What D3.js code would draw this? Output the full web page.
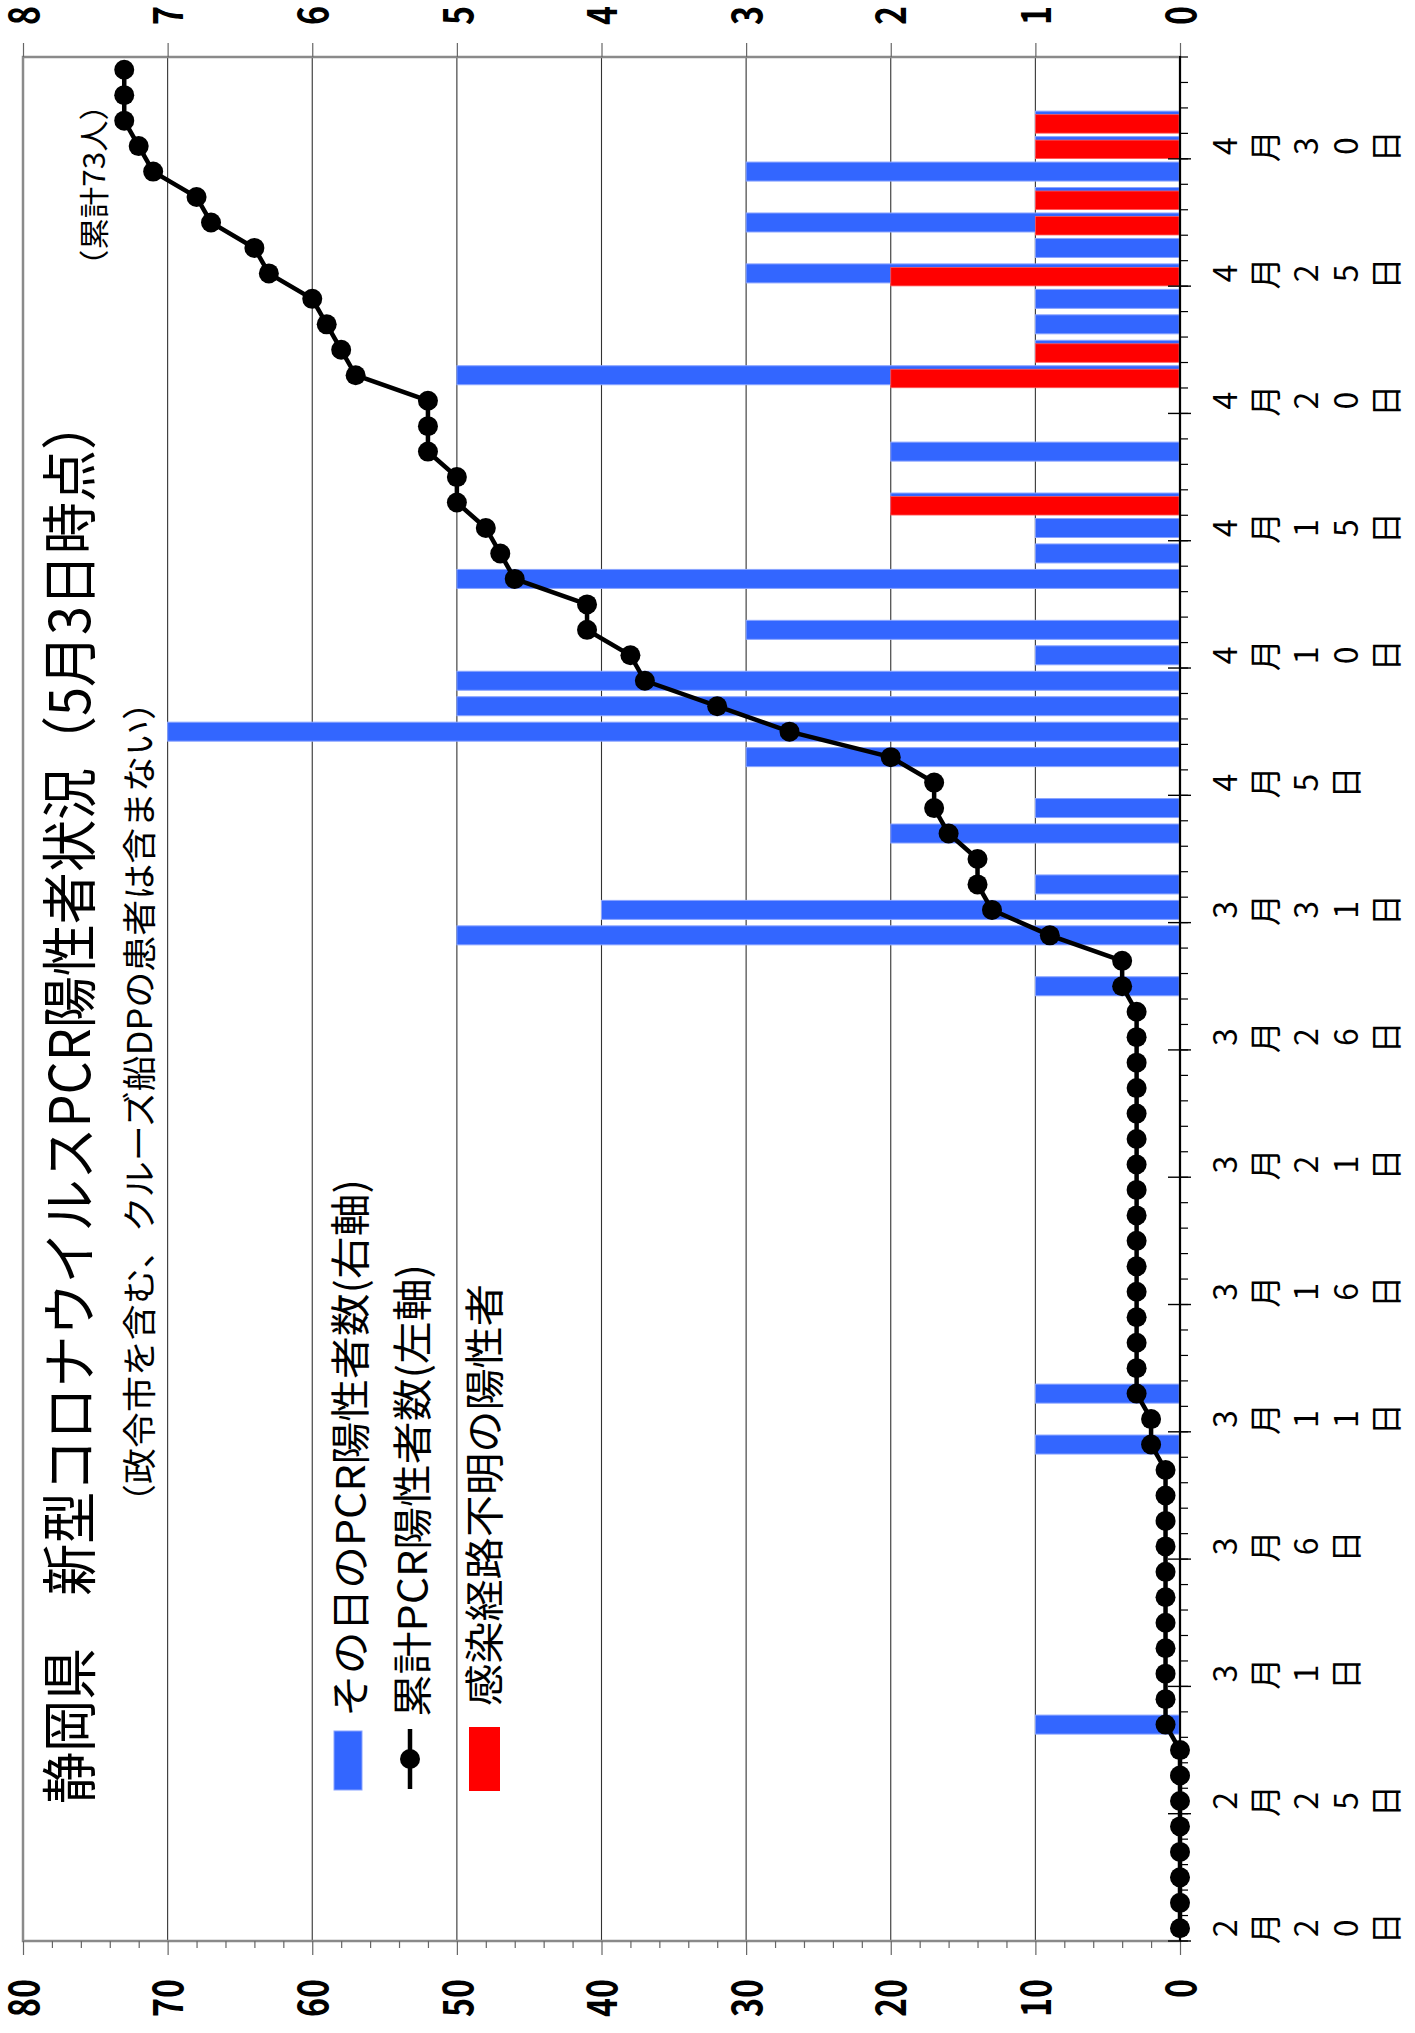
<!DOCTYPE html>
<html><head><meta charset="utf-8">
<script src="https://cdn.jsdelivr.net/npm/d3@7/dist/d3.min.js"></script>
<style>
html,body{margin:0;padding:0;background:#fff;}
svg{display:block;}
text{font-family:"Noto Sans CJK JP","Noto Sans",sans-serif;fill:#000;}
</style></head>
<body>
<svg id="chart" width="1415" height="2033"></svg>
<script>
// ---- data ----
const dates = ["2/20","2/21","2/22","2/23","2/24","2/25","2/26","2/27","2/28","2/29",
"3/1","3/2","3/3","3/4","3/5","3/6","3/7","3/8","3/9","3/10","3/11","3/12","3/13","3/14","3/15","3/16","3/17","3/18","3/19","3/20","3/21","3/22","3/23","3/24","3/25","3/26","3/27","3/28","3/29","3/30","3/31",
"4/1","4/2","4/3","4/4","4/5","4/6","4/7","4/8","4/9","4/10","4/11","4/12","4/13","4/14","4/15","4/16","4/17","4/18","4/19","4/20","4/21","4/22","4/23","4/24","4/25","4/26","4/27","4/28","4/29","4/30",
"5/1","5/2","5/3"];
const daily = [0,0,0,0,0,0,0,0,1,0,
0,0,0,0,0,0,0,0,0,1,0,1,0,0,0,0,0,0,0,0,0,0,0,0,0,0,0,1,0,5,4,
1,0,2,1,0,3,7,5,5,1,3,0,5,1,1,2,0,2,0,0,5,1,1,1,3,1,3,1,3,1,
1,0,0];
const unknownRoute = [0,0,0,0,0,0,0,0,0,0,
0,0,0,0,0,0,0,0,0,0,0,0,0,0,0,0,0,0,0,0,0,0,0,0,0,0,0,0,0,0,0,
0,0,0,0,0,0,0,0,0,0,0,0,0,0,0,2,0,0,0,0,2,1,0,0,2,0,1,1,0,1,
1,0,0];
const cumulative = [0,0,0,0,0,0,0,0,1,1,
1,1,1,1,1,1,1,1,1,2,2,3,3,3,3,3,3,3,3,3,3,3,3,3,3,3,3,4,4,9,13,
14,14,16,17,17,20,27,32,37,38,41,41,46,47,48,50,50,52,52,52,57,58,59,60,63,64,67,68,71,72,
73,73,73];
const leftTicks = [0,10,20,30,40,50,60,70,80];
const leftMinor = [2,4,6,8,12,14,16,18,22,24,26,28,32,34,36,38,42,44,46,48,52,54,56,58,62,64,66,68,72,74,76,78];
const rightTicks = [0,1,2,3,4,5,6,7,8];
const titleText = "静岡県　新型コロナウイルスPCR陽性者状況（5月3日時点）";
const subtitleText = "（政令市を含む、クルーズ船DPの患者は含まない）";
const totalNote = "（累計73人）";
const legendLabels = ["その日のPCR陽性者数(右軸)", "累計PCR陽性者数(左軸)", "感染経路不明の陽性者"];

// ---- layout (chart drawn in its own frame, then rotated) ----
const W = 2033, H = 1415;
const L = 92, R = 1976, T = 23, B = 1180;
const svg = d3.select("#chart");
const g = svg.append("g").attr("transform", `translate(0,${W}) rotate(-90)`);
g.append("rect").attr("x",0).attr("y",0).attr("width",W).attr("height",H).attr("fill","#fff");

const x = d3.scaleBand().domain(dates).range([L, R]).padding(0);
const bw = x.bandwidth();
const yL = d3.scaleLinear().domain([0, 80]).range([B, T]);
const yR = d3.scaleLinear().domain([0, 8]).range([B, T]);

// gridlines
g.append("g").selectAll("line").data(leftTicks.filter(v => v > 0 && v < 80)).join("line")
  .attr("x1", L).attr("x2", R).attr("y1", d => yL(d)).attr("y2", d => yL(d))
  .attr("stroke", "#333").attr("stroke-width", 1.1);

// blue bars (daily)
const rows = dates.map((d, i) => ({date: d, daily: daily[i], unk: unknownRoute[i], cum: cumulative[i]}));
g.append("g").selectAll("rect").data(rows.filter(r => r.daily > 0)).join("rect")
  .attr("x", r => x(r.date) + bw / 2 - 9.5)
  .attr("width", 19)
  .attr("y", r => yR(r.daily))
  .attr("height", r => yR(0) - yR(r.daily))
  .attr("fill", "#3366ff").attr("stroke", "#8aa4ff").attr("stroke-width", 1);

// red bars (unknown route)
g.append("g").selectAll("rect").data(rows.filter(r => r.unk > 0)).join("rect")
  .attr("x", r => x(r.date) + bw / 2 - 12.5)
  .attr("width", 18.5)
  .attr("y", r => yR(r.unk))
  .attr("height", r => yR(0) - yR(r.unk))
  .attr("fill", "#ff0000").attr("stroke", "#ff5a5a").attr("stroke-width", 0.8);

// plot border
g.append("rect").attr("x", L).attr("y", T).attr("width", R - L).attr("height", B - T)
  .attr("fill", "none").attr("stroke", "#8a8a8a").attr("stroke-width", 2.5);

// left axis (cumulative)
const axL = g.append("g").attr("transform", `translate(${L},0)`)
  .call(d3.axisLeft(yL).tickValues(leftTicks).tickSize(14).tickPadding(24));
axL.select(".domain").remove();
axL.selectAll(".tick line").attr("stroke", "#666").attr("stroke-width", 1.2);
axL.selectAll(".tick text").attr("font-size", 42).attr("font-weight", "bold")
  .attr("font-family", "'Liberation Sans', Arial, sans-serif")
  .attr("textLength", d => String(d).length * 19).attr("lengthAdjust", "spacingAndGlyphs").attr("dy", "0.36em");
const axLm = g.append("g").attr("transform", `translate(${L},0)`)
  .call(d3.axisLeft(yL).tickValues(leftMinor).tickSize(7).tickFormat(""));
axLm.select(".domain").remove();
axLm.selectAll(".tick line").attr("stroke", "#666").attr("stroke-width", 1.2);

// right axis (daily)
const axR = g.append("g").attr("transform", `translate(${R},0)`)
  .call(d3.axisRight(yR).tickValues(rightTicks).tickSize(14).tickPadding(18));
axR.select(".domain").remove();
axR.selectAll(".tick line").attr("stroke", "#666").attr("stroke-width", 1.2);
axR.selectAll(".tick text").attr("font-size", 42).attr("font-weight", "bold")
  .attr("font-family", "'Liberation Sans', Arial, sans-serif")
  .attr("textLength", 19).attr("lengthAdjust", "spacingAndGlyphs").attr("dy", "0.36em");

// date axis
const gx = g.append("g");
gx.append("line").attr("x1", L).attr("x2", R + 1).attr("y1", B).attr("y2", B)
  .attr("stroke", "#000").attr("stroke-width", 2);
const bounds = dates.map(d => x(d)).concat([x(dates[dates.length - 1]) + bw]);
gx.selectAll("line.minor").data(bounds).join("line").attr("class", "minor")
  .attr("x1", d => d).attr("x2", d => d).attr("y1", B).attr("y2", B + 8)
  .attr("stroke", "#000").attr("stroke-width", 1.2);
const labeled = dates.filter((d, i) => i % 5 === 0);
gx.selectAll("line.major").data(labeled).join("line").attr("class", "major")
  .attr("x1", d => x(d)).attr("x2", d => x(d)).attr("y1", B - 12).attr("y2", B + 11)
  .attr("stroke", "#000").attr("stroke-width", 1.4);
const fmt = d => { const [m, dd] = d.split("/"); return m + "月" + dd + "日"; };
const lab = gx.selectAll("text.dl").data(labeled).join("text").attr("class", "dl")
  .attr("text-anchor", "middle").attr("font-size", 32);
lab.each(function(d) {
  const chars = Array.from(fmt(d));
  const cx = x(d) + bw / 2;
  d3.select(this).selectAll("tspan").data(chars).join("tspan")
    .attr("x", cx).attr("y", (c, k) => 1223 + 40.3 * k).attr("dominant-baseline", "central")
    .text(c => c);
});

// cumulative line
const line = d3.line().x(r => x(r.date) + bw / 2).y(r => yL(r.cum));
g.append("path").datum(rows).attr("d", line).attr("fill", "none")
  .attr("stroke", "#000").attr("stroke-width", 4.5);
g.append("g").selectAll("circle").data(rows).join("circle")
  .attr("cx", r => x(r.date) + bw / 2).attr("cy", r => yL(r.cum)).attr("r", 10).attr("fill", "#000");

// titles
g.append("text").attr("x", 229).attr("y", 65).attr("dominant-baseline", "central")
  .attr("font-size", 56).attr("textLength", 1406).attr("lengthAdjust", "spacingAndGlyphs").text(titleText);
g.append("text").attr("x", 513).attr("y", 137).attr("dominant-baseline", "central")
  .attr("font-size", 34).attr("textLength", 836).attr("lengthAdjust", "spacingAndGlyphs").text(subtitleText);
g.append("text").attr("x", 1752).attr("y", 92).attr("dominant-baseline", "central")
  .attr("font-size", 30).attr("textLength", 192).attr("lengthAdjust", "spacingAndGlyphs").text(totalNote);

// legend
const lg = g.append("g");
lg.append("rect").attr("x", 243).attr("y", 334).attr("width", 59).attr("height", 28)
  .attr("fill", "#3366ff").attr("stroke", "#8aa4ff").attr("stroke-width", 1);
lg.append("line").attr("x1", 244).attr("x2", 304).attr("y1", 410).attr("y2", 410)
  .attr("stroke", "#000").attr("stroke-width", 4.5);
lg.append("circle").attr("cx", 274).attr("cy", 410).attr("r", 10).attr("fill", "#000");
lg.append("rect").attr("x", 242).attr("y", 469).attr("width", 64).attr("height", 31)
  .attr("fill", "#ff0000");
const legPos = [{x: 316, y: 348, len: 538}, {x: 316, y: 410, len: 453}, {x: 327, y: 482, len: 422}];
lg.selectAll("text").data(legendLabels).join("text")
  .attr("x", (d, i) => legPos[i].x).attr("y", (d, i) => legPos[i].y)
  .attr("dominant-baseline", "central").attr("font-size", 40)
  .attr("textLength", (d, i) => legPos[i].len).attr("lengthAdjust", "spacingAndGlyphs")
  .text(d => d);
</script>
</body></html>
